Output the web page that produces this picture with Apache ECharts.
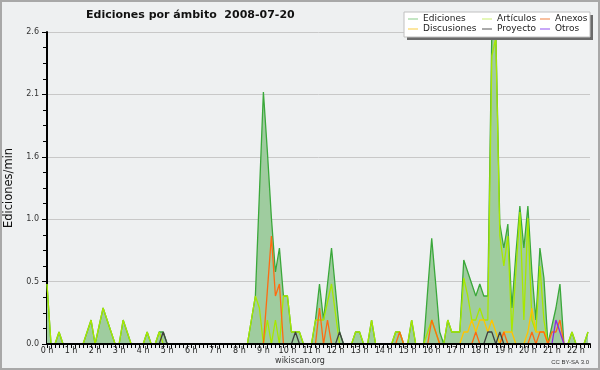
<!DOCTYPE html>
<html><head><meta charset="utf-8">
<script src="https://cdn.jsdelivr.net/npm/echarts@6/dist/echarts.min.js"></script>
<style>html,body{margin:0;padding:0;background:#eef0f1;}#c{width:600px;height:370px;}</style>
</head><body><div id="c"></div>
<script>
// 10-minute slots, edits per minute
const ediciones = [
0.5,0,0,0.1,0,0,0,0,0,0,0.1,0.2,
0,0.15,0.3,0.2,0.1,0,0,0.2,0.1,0,0,0,
0,0.1,0,0,0.1,0.1,0,0,0,0,0,0,
0,0,0,0,0,0,0,0,0,0,0,0,
0,0,0,0.2,0.4,1.25,2.1,1.6,1.05,0.6,0.8,0.4,
0.4,0.1,0.1,0.1,0,0,0,0.2,0.5,0.2,0.5,0.8,
0.45,0.1,0,0,0,0.1,0.1,0,0,0.2,0,0,
0,0,0,0.1,0.1,0,0,0.2,0,0,0,0.45,
0.88,0.5,0.1,0,0.2,0.1,0.1,0.1,0.7,0.6,0.5,0.4,
0.5,0.4,0.4,2.6,2.6,1.0,0.8,1.0,0.3,0.75,1.15,0.8,
1.15,0.6,0.2,0.8,0.55,0,0.15,0.3,0.5,0,0,0.1,
0,0,0,0.1];
const articulos = [
0.5,0,0,0.1,0,0,0,0,0,0,0.1,0.2,
0,0.15,0.3,0.2,0.1,0,0,0.2,0.1,0,0,0,
0,0.1,0,0,0.1,0,0,0,0,0,0,0,
0,0,0,0,0,0,0,0,0,0,0,0,
0,0,0,0.2,0.4,0.3,0,0.2,0,0.2,0,0.4,
0.4,0.1,0.1,0.1,0,0,0,0.2,0.2,0.2,0.35,0.5,
0.25,0,0,0,0,0.1,0.1,0,0,0.2,0,0,
0,0,0,0.1,0.1,0,0,0.2,0,0,0,0.1,
0.2,0.1,0,0,0.2,0.1,0.1,0.1,0.55,0.4,0.2,0.2,
0.3,0.2,0.2,2.4,2.55,0.9,0.65,0.9,0.1,0.6,1.1,0.2,
1.05,0.2,0.1,0.65,0.2,0,0,0,0,0,0,0.1,
0,0,0,0.1];
const anexos = [
0,0,0,0,0,0,0,0,0,0,0,0,
0,0,0,0,0,0,0,0,0,0,0,0,
0,0,0,0,0,0,0,0,0,0,0,0,
0,0,0,0,0,0,0,0,0,0,0,0,
0,0,0,0,0,0,0,0.45,0.9,0.4,0.5,0,
0,0,0,0,0,0,0,0,0.3,0,0.2,0,
0,0,0,0,0,0,0,0,0,0,0,0,
0,0,0,0,0.1,0,0,0,0,0,0,0,
0.2,0.1,0,0,0,0,0,0,0,0,0,0.1,
0,0,0,0,0,0,0.1,0,0,0,0,0,
0,0.1,0,0.1,0.1,0,0.1,0.1,0.2,0,0,0,
0,0,0,0];
const discusiones = [
0,0,0,0,0,0,0,0,0,0,0,0,
0,0,0,0,0,0,0,0,0,0,0,0,
0,0,0,0,0,0,0,0,0,0,0,0,
0,0,0,0,0,0,0,0,0,0,0,0,
0,0,0,0,0,0,0,0,0,0,0,0,
0,0,0,0,0,0,0,0,0,0,0,0,
0,0,0,0,0,0,0,0,0,0,0,0,
0,0,0,0,0,0,0,0,0,0,0,0,
0,0,0,0,0,0,0,0,0.1,0.1,0.2,0.1,
0.2,0.2,0.1,0.2,0.1,0,0.1,0.1,0.1,0,0,0,
0.1,0.3,0.1,0.1,0.1,0,0,0,0,0,0,0,
0,0,0,0];
const proyecto = [
0,0,0,0,0,0,0,0,0,0,0,0,
0,0,0,0,0,0,0,0,0,0,0,0,
0,0,0,0,0,0.1,0,0,0,0,0,0,
0,0,0,0,0,0,0,0,0,0,0,0,
0,0,0,0,0,0,0,0,0,0,0,0,
0,0,0.1,0,0,0,0,0,0,0,0,0,
0,0.1,0,0,0,0,0,0,0,0,0,0,
0,0,0,0,0,0,0,0,0,0,0,0,
0,0,0,0,0,0,0,0,0,0,0,0,
0,0,0.1,0.1,0,0.1,0,0,0,0,0,0,
0,0,0,0,0,0,0,0,0,0,0,0,
0,0,0,0];
const otros = [
0,0,0,0,0,0,0,0,0,0,0,0,
0,0,0,0,0,0,0,0,0,0,0,0,
0,0,0,0,0,0,0,0,0,0,0,0,
0,0,0,0,0,0,0,0,0,0,0,0,
0,0,0,0,0,0,0,0,0,0,0,0,
0,0,0,0,0,0,0,0,0,0,0,0,
0,0,0,0,0,0,0,0,0,0,0,0,
0,0,0,0,0,0,0,0,0,0,0,0,
0,0,0,0,0,0,0,0,0,0,0,0,
0,0,0,0,0,0,0,0,0,0,0,0,
0,0,0,0,0,0,0,0.2,0.1,0,0,0,
0,0,0,0];
const seriesNames = ['Ediciones','Artículos','Anexos','Discusiones','Proyecto','Otros'];
const stepMinutes = 10;
const times = ediciones.map((_, i) => i * stepMinutes);
const pairs = arr => arr.map((v, i) => [times[i], v]);

const F = 'DejaVu Sans';
const colors = {Ediciones:'#3aa83a', 'Artículos':'#a8e800', Anexos:'#ff6a10', Discusiones:'#ffc400', Proyecto:'#404040', Otros:'#8a2be2'};
const legendColors = {Ediciones:'#88cc88', 'Artículos':'#c8ee70', Anexos:'#f08040', Discusiones:'#f8cc40', Proyecto:'#555555', Otros:'#9050f0'};
function lineSeries(name, data, extra){
  return Object.assign({name, type:'line', data:pairs(data), symbol:'none', showSymbol:false,
    lineStyle:{color:colors[name], width:1.3}, itemStyle:{color:colors[name]}, z:2}, extra||{});
}
function leg(names, left){
  return {data:names.map(n=>({name:n, itemStyle:{color:legendColors[n]}})), left, top:14, orient:'vertical',
    itemWidth:10, itemHeight:1, itemGap:0, icon:'rect', padding:0, selectedMode:false,
    textStyle:{fontFamily:F, fontSize:9, lineHeight:10, color:'#222'}};
}
const chart = echarts.init(document.getElementById('c'), null, {renderer:'canvas'});
chart.setOption({
  animation:false,
  backgroundColor:'#eef0f1',
  title:{text:'Ediciones por ámbito  2008-07-20', left:81, top:5, textStyle:{fontFamily:F, fontSize:11, fontWeight:'bold', color:'#111'}},
  grid:{left:47, right:10, top:32, bottom:26, containLabel:false, outerBoundsMode:'none'},
  legend:[leg(['Ediciones','Discusiones'],408), leg(['Artículos','Proyecto'],482), leg(['Anexos','Otros'],540)],
  xAxis:{type:'value', min:0, max:1355, interval:60, z:3,
    axisLine:{lineStyle:{color:'#000', width:2}},
    axisTick:{length:4, lineStyle:{color:'#000'}},
    minorTick:{show:true, splitNumber:6, length:4, lineStyle:{color:'#000'}},
    splitLine:{show:false},
    axisLabel:{formatter: v => (v/60) + ' h', fontFamily:F, fontSize:8, color:'#222', margin:3, showMaxLabel:false}
  },
  yAxis:{type:'value', min:0, max:2.6, interval:0.52,
    name:'Ediciones/min', nameLocation:'middle', nameGap:29,
    nameTextStyle:{fontFamily:F, fontSize:11.5, color:'#111'},
    axisLine:{show:true, lineStyle:{color:'#000', width:2}},
    axisTick:{show:true, length:5, lineStyle:{color:'#000'}},
    minorTick:{show:true, splitNumber:4, length:4, lineStyle:{color:'#000'}},
    splitLine:{show:true, lineStyle:{color:'#c8c8c8', width:1}},
    axisLabel:{formatter: v => v.toFixed(1), fontFamily:F, fontSize:8, color:'#333', margin:8}
  },
  series:[
    lineSeries('Ediciones', ediciones, {areaStyle:{color:'#9fcc9f', opacity:1}}),
    lineSeries('Artículos', articulos),
    lineSeries('Discusiones', discusiones),
    lineSeries('Anexos', anexos),
    lineSeries('Proyecto', proyecto),
    lineSeries('Otros', otros)
  ],
  graphic:[
    {type:'rect', silent:true, z:3, shape:{x:407, y:15, width:186, height:25}, style:{fill:'#6a6a6a'}},
    {type:'rect', silent:true, z:3.5, shape:{x:404, y:12, width:186, height:25}, style:{fill:'#ffffff', stroke:'#c0c0c0', lineWidth:1}},
    {type:'rect', silent:true, z:10, shape:{x:1, y:1, width:598, height:368}, style:{fill:'none', stroke:'#a8a8a8', lineWidth:2}},
    {type:'text', silent:true, z:10, style:{text:'wikiscan.org', x:300, y:361, align:'center', verticalAlign:'middle', textAlign:'center', textVerticalAlign:'middle', font:'8px "DejaVu Sans"', fill:'#333'}},
    {type:'text', silent:true, z:10, style:{text:'CC BY-SA 3.0', x:589, y:362, align:'right', verticalAlign:'middle', textAlign:'right', textVerticalAlign:'middle', font:'6px "Liberation Sans"', fill:'#333'}}
  ]
});
</script></body></html>
